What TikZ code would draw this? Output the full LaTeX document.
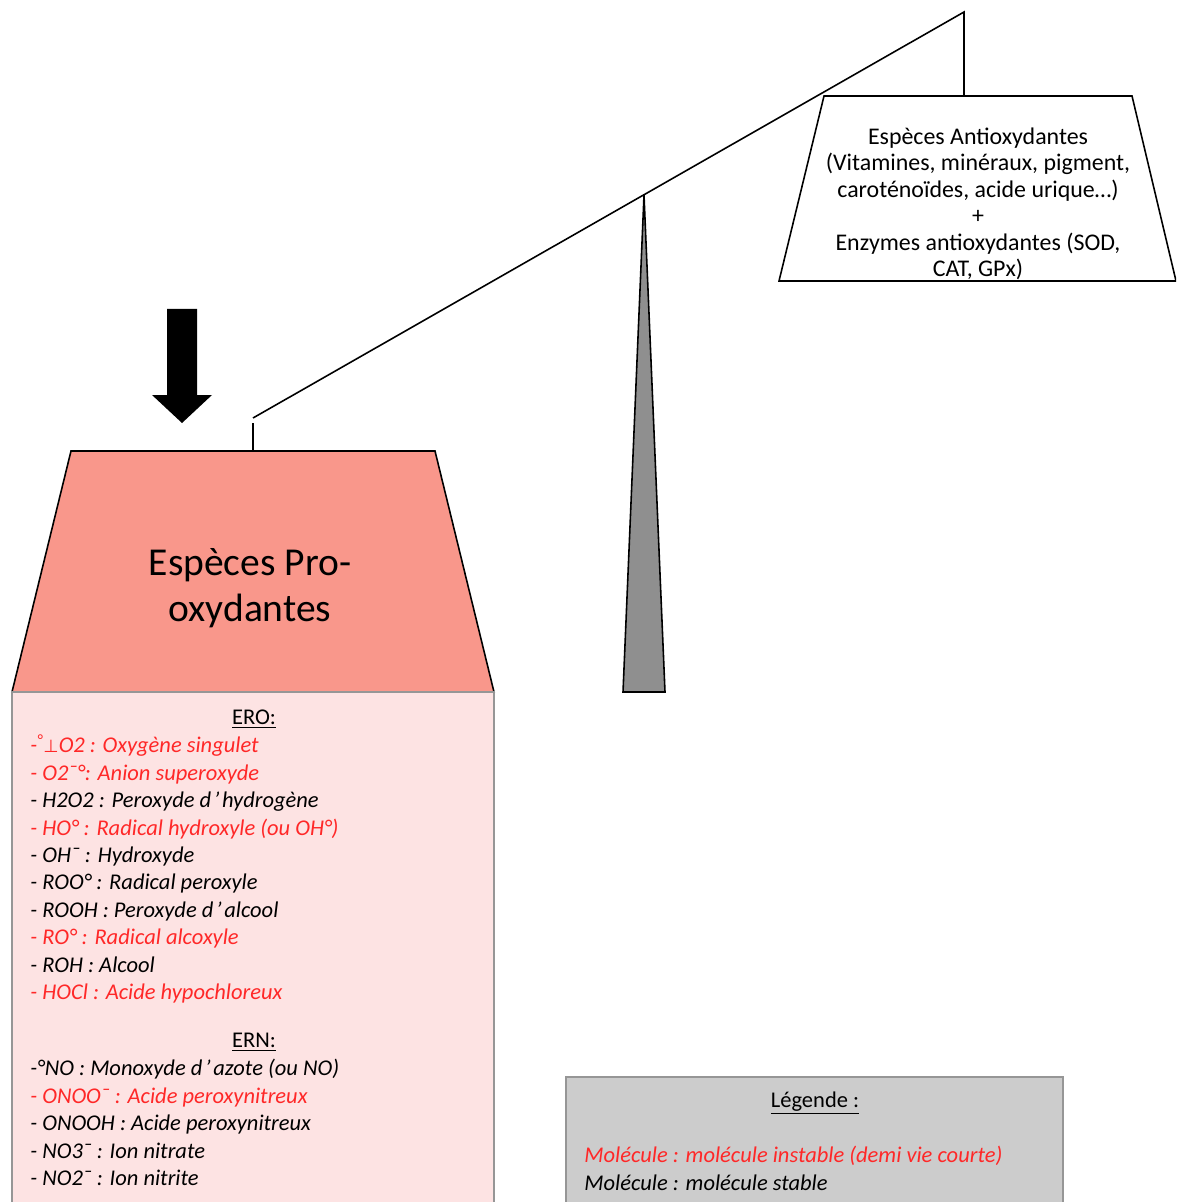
\documentclass[tikz,border=0pt]{standalone}
\usepackage{fontspec}
\setmainfont{Carlito}
\newfontfamily\symfont{DejaVu Sans}
\usetikzlibrary{positioning}
\definecolor{proRed}{RGB}{249,151,139}
\definecolor{proPink}{RGB}{253,227,227}
\definecolor{unstable}{RGB}{255,40,40}
\definecolor{legendGray}{RGB}{204,204,204}
\definecolor{pivotGray}{RGB}{143,143,143}
\definecolor{boxLine}{RGB}{150,150,150}
\newcommand{\apos}{\kern1.5pt’\kern1.5pt}
\newcommand{\unst}[1]{{\color{unstable}#1}}

\begin{document}
\begin{tikzpicture}[x=0.02cm, y=-0.02cm,
    pan/.style={draw=black, line width=0.9pt},
    listbox/.style={draw=boxLine, line width=0.9pt},
    listtext/.style={anchor=north west, align=left, inner sep=0, font=\fontsize{12.8}{15.6}\selectfont\itshape},
    heading/.style={inner sep=0, font=\fontsize{12.8}{15}\selectfont}]
    \clip (0,0) rectangle (1176,1202);

    % balance beam and pivot
    \coordinate (beam-left) at (253,418);
    \coordinate (beam-right) at (964,12);
    \draw[line width=0.9pt] (beam-left) -- (beam-right) -- (964,96);
    \draw[line width=0.9pt] (253,423) -- (253,451);
    \draw[pan, fill=pivotGray] (644,195) -- (665,692) -- (623,692) -- cycle;

    % pro-oxidant pan
    \draw[pan, fill=proRed] (71,451) -- (435,451) -- (494,692) -- (12,692) -- cycle;
    \node(pro)[inner sep=0, align=center, font=\fontsize{22.5}{26}\selectfont] at (250,588)
        {Espèces Pro-\\oxydantes};
    \draw[listbox, fill=proPink] (12,692) rectangle (494,1215);

    % heavy side arrow
    \fill (167,309) -- (197,309) -- (197,395) -- (212,395) -- (182,423) -- (152,395) -- (167,395) -- cycle;

    % antioxidant pan
    \draw[pan, fill=white] (824,96) -- (1132,96) -- (1176,281) -- (779,281) -- cycle;
    \node(anti)[inner sep=0, align=center, font=\fontsize{13.6}{15.1}\selectfont] at (978,204)
        {Espèces Antioxydantes\\(Vitamines, minéraux, pigment,\\caroténoïdes, acide urique…)\\+\\Enzymes antioxydantes (SOD,\\CAT, GPx)};

    % ERO list
    \node(ero-title)[heading] at (254,719) {\underline{ERO:}};
    \node(ero-list)[listtext] at (30,734)
        {\unst{-\textsuperscript{°}{\symfont\fontsize{10}{12}\selectfont⊥}O2 : Oxygène singulet}\\
         \unst{- O2¯°: Anion superoxyde}\\
         - H2O2 : Peroxyde d\apos hydrogène\\
         \unst{- HO° : Radical hydroxyle (ou OH°)}\\
         - OH¯ : Hydroxyde\\
         - ROO° : Radical peroxyle\\
         - ROOH : Peroxyde d\apos alcool\\
         \unst{- RO° : Radical alcoxyle}\\
         - ROH : Alcool\\
         \unst{- HOCl : Acide hypochloreux}};

    % ERN list
    \node(ern-title)[heading] at (254,1042) {\underline{ERN:}};
    \node(ern-list)[listtext] at (30,1059)
        {-°NO : Monoxyde d\apos azote (ou NO)\\
         \unst{- ONOO¯ : Acide peroxynitreux}\\
         - ONOOH : Acide peroxynitreux\\
         - NO3¯ : Ion nitrate\\
         - NO2¯ : Ion nitrite};

    % legend
    \draw[listbox, fill=legendGray] (566,1077) rectangle (1063,1215);
    \node(legend-title)[heading] at (815,1103) {\underline{Légende :}};
    \node(legend-list)[listtext] at (584,1146)
        {\unst{Molécule : molécule instable (demi vie courte)}\\
         Molécule : molécule stable};
\end{tikzpicture}
\end{document}
